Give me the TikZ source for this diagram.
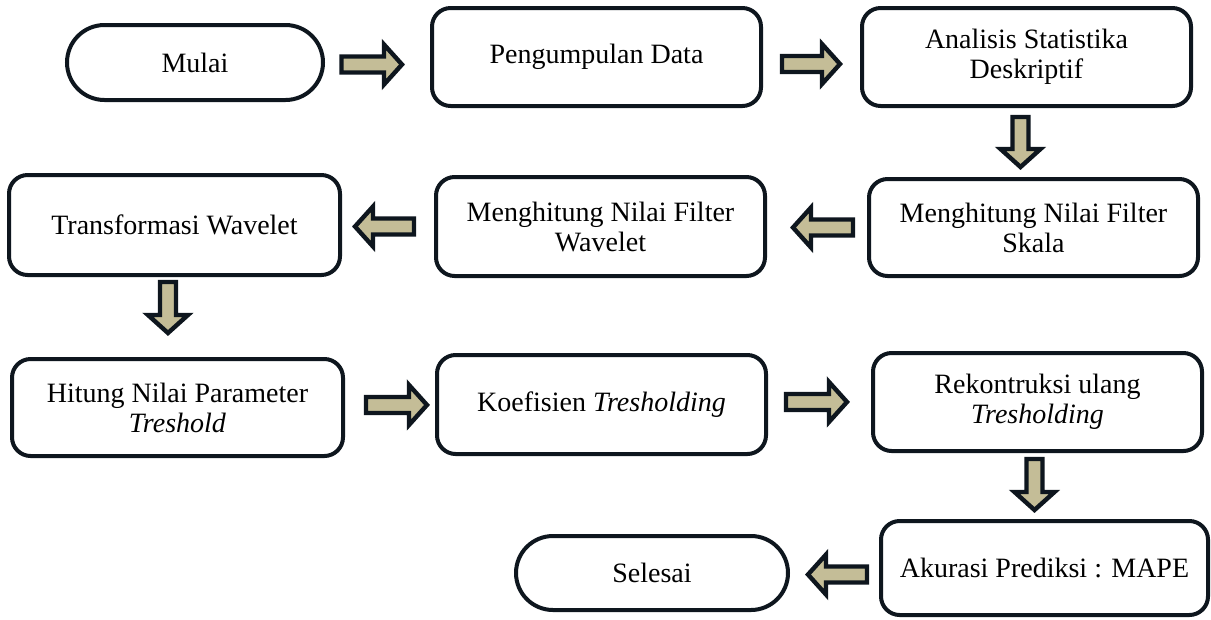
\documentclass[tikz,border=0pt]{standalone}
\usepackage{fontspec}
\setmainfont{Liberation Serif}
\usetikzlibrary{calc,shapes.misc}
\definecolor{edge}{RGB}{14,22,30}
\definecolor{tanfill}{RGB}{196,189,151}
\begin{document}
\begin{tikzpicture}[x=0.75pt,y=-0.75pt,
  box/.style={draw=edge, line width=3pt, rounded corners=14pt, fill=white,
    align=center, inner sep=0pt, font=\fontsize{21}{22.5}\selectfont,
    minimum width=246.75pt, minimum height=73.5pt},
  term/.style={draw=edge, line width=3pt, rounded rectangle, fill=white,
    align=center, inner sep=0pt, font=\fontsize{21}{22.5}\selectfont},
  barrow/.style={draw=edge, fill=tanfill, line width=3.3pt, line join=miter,
    to path={let \p1=(\tikztostart), \p2=(\tikztotarget),
      \n1={atan2(\y2-\y1,\x2-\x1)}, \n2={veclen(\x2-\x1,\y2-\y1)} in
      (\p1) ++(\n1+90:6pt) -- ++(\n1:{\n2*1pt-13.5pt}) -- ++(\n1+90:9pt) -- (\p2)
      -- ++({\n1+180+atan(15/13.5)}:{veclen(13.5,15)*1pt}) -- ++(\n1+90:9pt)
      -- ++(\n1+180:{\n2*1pt-13.5pt}) -- cycle}}]
\useasboundingbox (0,0) rectangle (1211,619);

\node[term, minimum width=192pt, minimum height=56.25pt] (mulai) at (195,62.5) {Mulai};
\node[box] (peng) at (596.5,57) {Pengumpulan Data};
\node[box] (anal) at (1026.5,57) {Analisis Statistika\\Deskriptif};
\node[box, minimum height=72.75pt] (skala) at (1033.5,227.5) {Menghitung Nilai Filter\\Skala};
\node[box, minimum height=74.25pt] (wavf) at (600.5,226.5) {Menghitung Nilai Filter\\Wavelet};
\node[box, minimum width=248.25pt, minimum height=75pt] (transf) at (174.5,225) {Transformasi Wavelet};
\node[box, minimum width=248.25pt, minimum height=72.75pt] (hitung) at (177.5,407.5) {Hitung Nilai Parameter\\\textit{Treshold}};
\node[box, minimum height=74.25pt] (koef) at (601.5,404.5) {Koefisien \textit{Tresholding}};
\node[box] (rek) at (1037.5,402) {Rekontruksi ulang\\\textit{Tresholding}};
\node[box, minimum width=245.25pt, minimum height=70.5pt] (akur) at (1044.5,568) {Akurasi Prediksi : MAPE};
\node[term, minimum width=204pt, minimum height=55.5pt] (selesai) at (652,573) {Selesai};

\draw[barrow] ($(mulai.east)+(12.4pt,-1.5pt)$) to ($(mulai.east -| peng.west)+(-21pt,-1.5pt)$);
\draw[barrow] ($(peng.east)+(14.25pt,-5.25pt)$) to ($(peng.east -| anal.west)+(-15pt,-5.25pt)$);
\draw[barrow] ($(anal.south)+(-4.5pt,-6.75pt)$) to ($(anal.south |- skala.north)+(-4.5pt,7.5pt)$);
\draw[barrow] ($(skala.west)+(-10.5pt,0pt)$) to ($(skala.west -| wavf.east)+(19.5pt,0pt)$);
\draw[barrow] ($(wavf.west)+(-15pt,0pt)$) to ($(wavf.west -| transf.east)+(9.75pt,0pt)$);
\draw[barrow] ($(transf.south)+(-4.9pt,-3.75pt)$) to ($(transf.south |- hitung.north)+(-4.9pt,18pt)$);
\draw[barrow] ($(hitung.east)+(15.75pt,1.9pt)$) to ($(hitung.east -| koef.west)+(-6pt,1.9pt)$);
\draw[barrow] ($(koef.east)+(13.5pt,1.9pt)$) to ($(koef.east -| rek.west)+(-18pt,1.9pt)$);
\draw[barrow] ($(rek.south)+(-2.25pt,-4.5pt)$) to ($(rek.south |- akur.north)+(-2.25pt,6.75pt)$);
\draw[barrow] ($(akur.west)+(-9pt,-4.9pt)$) to ($(akur.west -| selesai.east)+(13.5pt,-4.9pt)$);
\end{tikzpicture}
\end{document}
